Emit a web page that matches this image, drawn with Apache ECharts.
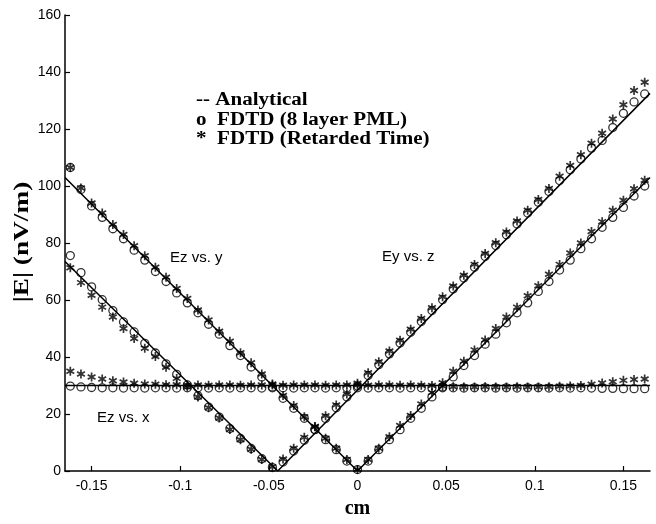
<!DOCTYPE html>
<html><head><meta charset="utf-8">
<script src="https://cdn.jsdelivr.net/npm/echarts@6/dist/echarts.min.js"></script>
<style>html,body{margin:0;padding:0;background:#fff}#c{width:656px;height:524px}</style>
</head><body><div id="c"></div>
<script>
// sample positions (cm)
const xs = [-0.162,-0.156,-0.15,-0.144,-0.138,-0.132,-0.126,-0.12,-0.114,-0.108,
  -0.102,-0.096,-0.09,-0.084,-0.078,-0.072,-0.066,-0.06,-0.054,-0.048,
  -0.042,-0.036,-0.03,-0.024,-0.018,-0.012,-0.006,0,0.006,0.012,
  0.018,0.024,0.03,0.036,0.042,0.048,0.054,0.06,0.066,0.072,
  0.078,0.084,0.09,0.096,0.102,0.108,0.114,0.12,0.126,0.132,
  0.138,0.144,0.15,0.156,0.162];

// V centred at 0
const pmlV1 = [106.5,98.8,93,89,85,81.5,77.5,74,70,66.5,
  62.5,59,55.5,51.5,48,44,40.5,36.5,33,29.5,
  25.5,22,18.5,14.5,11,7.5,3.5,0.5,3.5,7.5,
  11,14.5,18.5,22,26,29.5,33,37,40.5,44.5,
  48,52,55.5,59,63,66.5,70.5,74,78,81.5,
  85.5,89,92.5,96.5,100];
const rtV1 = [106.5,99.3,94,90.5,86.5,83,79,75.5,71.5,68,
  64,60.5,56.5,53,49,45.5,41.5,38,34,30.5,
  26.5,23,19,15.5,11.5,8,4,0.5,4,8,
  12,16,19.5,23.5,27.5,31,35,38.5,42.5,46,
  50,54,57.5,61.5,65,69,72.5,76.5,80,84,
  87.5,91.5,95,99,102];

// V centred near -0.045
const pmlV2 = [75.6,69.6,64.6,60.1,56.3,52.3,48.8,44.8,41.4,37.6,
  33.9,30.2,26.4,22.4,18.9,14.9,11.4,7.9,4.3,1.2,
  3.2,7.0,10.8,14.6,18.4,22.2,26.0,29.8,33.5,37.3,
  41.1,44.9,48.7,52.5,56.3,60.1,63.9,67.7,71.5,75.3,
  79.1,82.9,86.7,90.5,94.3,98.1,101.9,105.7,109.5,113.3,
  116,120.5,125.5,129.5,132.3];
const rtV2 = [71.3,66.1,61.7,57.5,54,50,46.5,43.1,40.2,36.4,
  32.5,29.5,26,22.2,18.6,14.6,11,7.6,4,1.5,
  4.2,8,11.8,15.6,19.4,23.2,27,30.8,34.5,38.3,
  42.1,45.9,49.7,53.5,57.3,61.1,64.9,68.7,72.5,76.3,
  80.1,83.9,87.7,91.5,95.3,99.1,103.4,107.2,111,115,
  118.5,123.5,128.5,133.5,136.4];

// flat curve (Ez vs. x)
const pmlFlat = [29.8,29.5,29.3,29.2,29.2,29.1,29.2,29.1,29.2,29.2,
  29.1,29.2,29.2,29.1,29.2,29.1,29.2,29.2,29.1,29.2,
  29.2,29.1,29.2,29.2,29.1,29.2,29.2,29.2,29.1,29.2,
  29.2,29.1,29.2,29.2,29.1,29.2,29.2,29.1,29.2,29.2,
  29.1,29.2,29.1,29.2,29.2,29.1,29.2,29.1,29.2,29.1,
  29.0,29.0,28.9,28.9,28.9];
const rtFlat = [35,34,33,32.3,31.7,31.2,30.8,30.5,30.4,30.3,
  30.3,30.2,30.2,30.1,30.2,30.2,30.1,30.2,30.2,30.2,
  30.1,30.2,30.2,30.2,30.1,30.2,30.2,30.2,30.1,30.2,
  30.2,30.1,30.2,30.1,30,29.8,29.6,29.5,29.5,29.6,
  29.5,29.5,29.6,29.5,29.5,29.6,29.7,29.8,30,30.4,
  30.9,31.3,31.8,32.1,32.3];

// analytical curves (vertices)
const anaV1X = [-0.165, 0, 0.165],     anaV1Y = [103, 0, 103];
const anaV2X = [-0.165, -0.045, 0.165], anaV2Y = [73.5, 0, 132.5];
const anaFlatX = [-0.165, 0.165],       anaFlatY = [30, 30];

const xTicks = [-0.15, -0.1, -0.05, 0, 0.05, 0.1, 0.15];

const legendLines = ['-- Analytical', 'o  FDTD (8 layer PML)', '*  FDTD (Retarded Time)'];
const curveLabels = ['Ez vs. y', 'Ey vs. z', 'Ez vs. x'];
const xTitle = 'cm';
const yTitle = '|E| (nV/m)';

const zip = (a, b) => a.map((v, i) => [v, b[i]]);
const STAR = 'path://M10,1L10,19M2.2,5.5L17.8,14.5M2.2,14.5L17.8,5.5';

function lineSeries(x, y) {
  return { type: 'line', data: zip(x, y), symbol: 'none', silent: true,
    lineStyle: { color: '#000', width: 1.5 }, z: 2 };
}
function circSeries(y) {
  return { type: 'scatter', data: zip(xs, y), symbol: 'circle', symbolSize: 8, silent: true,
    itemStyle: { color: 'rgba(0,0,0,0)', borderColor: '#000', borderWidth: 1.3 }, z: 3 };
}
function starSeries(y) {
  return { type: 'scatter', data: zip(xs, y), symbol: STAR, symbolSize: 9, symbolKeepAspect: true, silent: true,
    itemStyle: { color: '#000', borderColor: '#000', borderWidth: 1.7 }, z: 4 };
}

const chart = echarts.init(document.getElementById('c'), null, { renderer: 'canvas' });
const serif = '"Liberation Serif", "Times New Roman", serif';
const sans = '"Liberation Sans", Arial, sans-serif';

chart.setOption({
  animation: false,
  backgroundColor: '#fff',
  grid: { left: 65, right: 6, top: 15, bottom: 45, containLabel: false },
  xAxis: {
    type: 'value', min: -0.165, max: 0.165,
    name: xTitle, nameLocation: 'middle', nameGap: 28,
    nameTextStyle: { fontFamily: serif, fontWeight: 'bold', fontSize: 20, color: '#000' },
    axisLine: { onZero: false, lineStyle: { color: '#000', width: 1.5 } },
    axisTick: { inside: true, length: 5, customValues: xTicks, lineStyle: { color: '#000', width: 1.2 } },
    axisLabel: { customValues: xTicks, margin: 8, color: '#000', fontFamily: sans, fontSize: 14,
      formatter: v => String(Math.round(v * 100) / 100) },
    splitLine: { show: false }
  },
  yAxis: {
    type: 'value', min: 0, max: 160, interval: 20,
    axisLine: { show: true, onZero: false, lineStyle: { color: '#000', width: 1.5 } },
    axisTick: { show: true, inside: true, length: 5, lineStyle: { color: '#000', width: 1.2 } },
    axisLabel: { margin: 4, color: '#000', fontFamily: sans, fontSize: 14 },
    splitLine: { show: false }
  },
  graphic: [
    { type: 'text', x: 23, y: 242, rotation: Math.PI / 2, scaleX: 1.3, silent: true,
      style: { text: yTitle, font: 'bold 21px ' + serif, fill: '#000', align: 'center', verticalAlign: 'middle' } },
    { type: 'text', x: 196, y: 91, scaleX: 1.17, silent: true,
      style: { text: legendLines.join('\n'), font: 'bold 18px ' + serif, fill: '#000', lineHeight: 19.5 } },
    { type: 'text', left: 170, top: 250, silent: true,
      style: { text: curveLabels[0], font: '15px ' + sans, fill: '#000' } },
    { type: 'text', left: 382, top: 249, silent: true,
      style: { text: curveLabels[1], font: '15px ' + sans, fill: '#000' } },
    { type: 'text', left: 97, top: 410, silent: true,
      style: { text: curveLabels[2], font: '15px ' + sans, fill: '#000' } }
  ],
  series: [
    lineSeries(anaV1X, anaV1Y),
    lineSeries(anaV2X, anaV2Y),
    lineSeries(anaFlatX, anaFlatY),
    circSeries(pmlV1), circSeries(pmlV2), circSeries(pmlFlat),
    starSeries(rtV1), starSeries(rtV2), starSeries(rtFlat)
  ]
});
</script>
</body></html>
